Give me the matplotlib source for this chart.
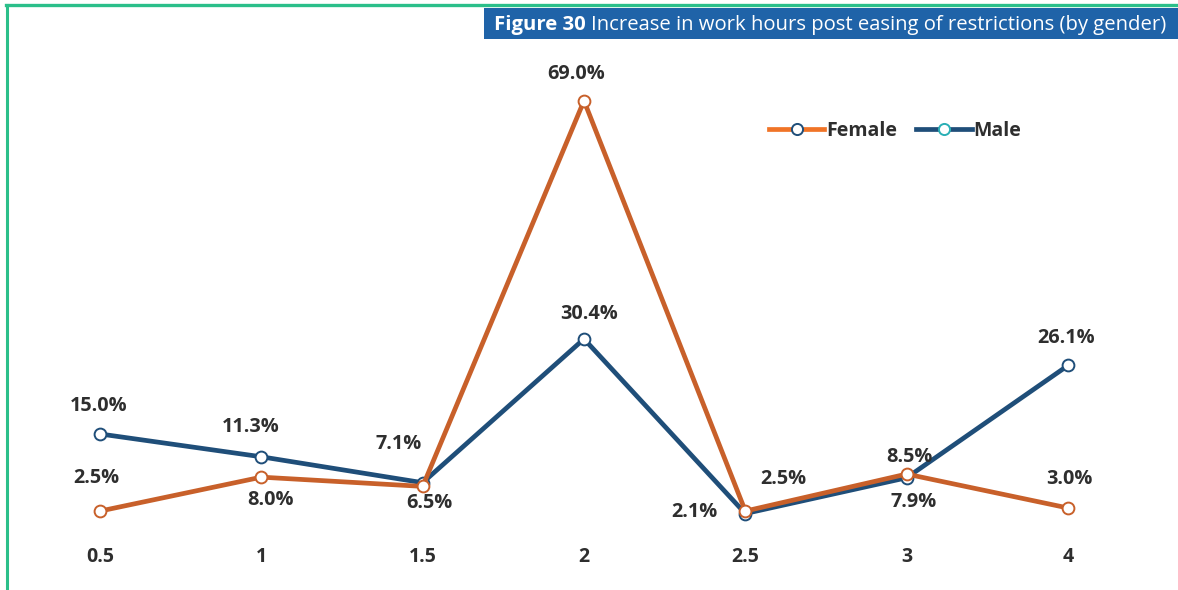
import matplotlib
matplotlib.use("Agg")
import matplotlib.pyplot as plt
from matplotlib.lines import Line2D
from matplotlib.patches import Rectangle

plt.rcParams['font.family'] = ['Open Sans', 'DejaVu Sans']

hours = ["0.5", "1", "1.5", "2", "2.5", "3", "4"]
female = [2.5, 8.0, 6.5, 69.0, 2.5, 8.5, 3.0]
male = [15.0, 11.3, 7.1, 30.4, 2.1, 7.9, 26.1]

# label centre offsets from each marker, in pixels (x right, y up)
female_offsets = [(-4, 35), (9.5, -20.5), (7, -14.5), (-8, 29), (38, 34), (3, 19.5), (1, 31)]
male_offsets = [(-1.5, 30), (-11, 32), (-24, 40.5), (5, 27), (-51, 3.5), (6.5, -22), (-1.5, 29.5)]

female_color = "#C8602A"
male_color = "#1F4E79"
text_color = "#2E2E2E"
green = "#2BBF8A"
title_blue = "#1F63A8"

W, H = 1178, 590
PX = 72 / 100  # points per pixel at dpi 100
fig = plt.figure(figsize=(W / 100, H / 100), dpi=100)

# frame lines at top and left
fig.add_artist(Line2D([6 / W, 1], [1 - 5 / H, 1 - 5 / H], color=green, lw=2.4, transform=fig.transFigure))
fig.add_artist(Line2D([7 / W, 7 / W], [0, 1 - 5 / H], color=green, lw=2.2, transform=fig.transFigure))

# title banner
fig.add_artist(Rectangle((484 / W, 1 - 39 / H), (W - 484) / W, 31 / H, facecolor=title_blue,
                         edgecolor="none", transform=fig.transFigure))
t1 = fig.text(494 / W, 1 - 30 / H, "Figure 30", color="white", fontsize=14.55, fontweight="bold",
              va="baseline", ha="left")
fig.canvas.draw()
bb = t1.get_window_extent()
fig.text(bb.x1 / W + 5 / W, 1 - 30 / H, "Increase in work hours post easing of restrictions (by gender)",
         color="white", fontsize=14.55, va="baseline", ha="left")

ax = fig.add_axes([40 / W, (H - 535) / H, 1090 / W, 485 / H])
x = list(range(len(hours)))
ax.plot(x, female, color=female_color, lw=3.4, marker="o", ms=8.5, mfc="white",
        mec=female_color, mew=1.4, zorder=3, solid_joinstyle="round")
ax.plot(x, male, color=male_color, lw=3.4, marker="o", ms=8.5, mfc="white",
        mec=male_color, mew=1.4, zorder=2, solid_joinstyle="round")

label_kw = dict(textcoords="offset points", ha="center", va="baseline",
                fontsize=14.3, fontweight="bold", color=text_color)
for i, v in enumerate(female):
    dx, dy = female_offsets[i]
    ax.annotate(f"{v:.1f}%", (i, v), xytext=(dx * PX, (dy - 7) * PX), **label_kw)
for i, v in enumerate(male):
    dx, dy = male_offsets[i]
    ax.annotate(f"{v:.1f}%", (i, v), xytext=(dx * PX, (dy - 7) * PX), **label_kw)

ax.set_xlim(-60 / 161.3, 6 + 62 / 161.3)
ax.set_ylim(-8.5 / 6.17, (526.5 - 50) / 6.17)
ax.set_xticks(x)
ax.set_xticklabels(hours, fontsize=14, fontweight="bold", color=text_color)
ax.tick_params(axis="x", length=0, pad=9)
ax.set_yticks([])
for s in ax.spines.values():
    s.set_visible(False)
ax.patch.set_alpha(0)

handles = [
    Line2D([], [], color="#F07427", lw=3.4, marker="o", ms=8, mfc="white", mec=male_color, mew=1.4),
    Line2D([], [], color=male_color, lw=3.4, marker="o", ms=8, mfc="white", mec="#2AAFB5", mew=1.4),
]
leg = fig.legend(handles, ["Female", "Male"], loc="center left", bbox_to_anchor=(769 / W, 1 - 131 / H),
                 frameon=False, handlelength=2.85, handletextpad=0.08, columnspacing=1.0, ncol=2,
                 prop={"size": 14, "weight": "bold"}, borderaxespad=0, borderpad=0)
for t in leg.get_texts():
    t.set_color(text_color)

fig.savefig("out.png", dpi=100)
